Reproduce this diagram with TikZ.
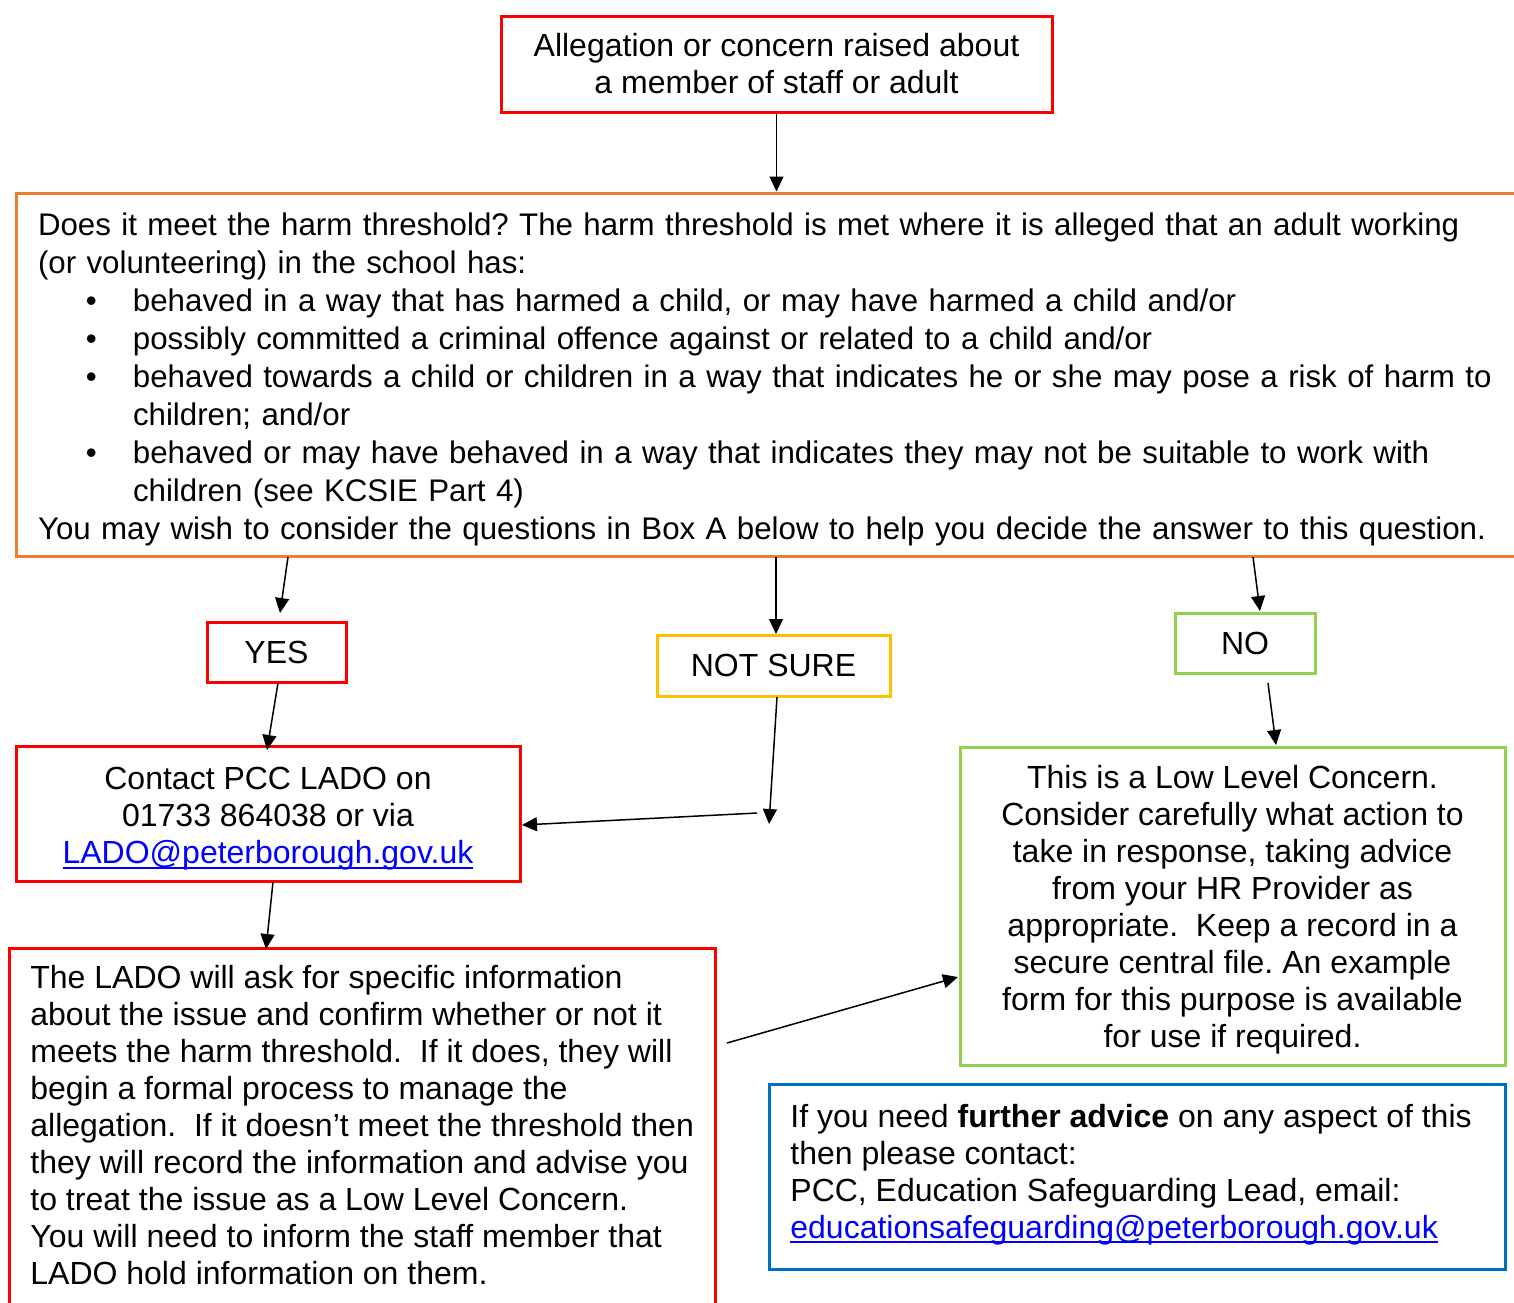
\documentclass[tikz,border=0pt]{standalone}
\usepackage{fontspec}
\setmainfont{Liberation Sans}
\usetikzlibrary{arrows.meta}
\definecolor{cred}{HTML}{FF0000}
\definecolor{corange}{HTML}{ED7D31}
\definecolor{cyellow}{HTML}{FFC000}
\definecolor{cgreen}{HTML}{92D050}
\definecolor{cblue}{HTML}{0070C0}
\definecolor{linkblue}{HTML}{0000FF}
\newcommand\weblink[1]{\leavevmode\setbox0=\hbox{\color{linkblue}#1}\rlap{\color{linkblue}\rule[-0.17em]{\wd0}{0.065em}}\box0}
\newcommand\bul{\hspace*{24pt}\makebox[23.5pt][l]{•}}
\newcommand\ind{\hspace*{47.5pt}}
\frenchspacing
\begin{document}
\begin{tikzpicture}[x=0.5pt,y=-0.5pt,
  every node/.style={font=\fontsize{16}{18.5}\selectfont},
  box/.style={draw, line width=1.5pt, inner sep=0pt},
  arr/.style={-{Triangle[length=7.5pt,width=7pt]}, line width=0.75pt}]
\useasboundingbox (0,0) rectangle (1514,1302);
\fill[white] (0,0) rectangle (1514,1302);

% boxes
\node[box, draw=cred, minimum width=275.5pt, minimum height=48pt, align=center] (top) at (776.5,64)
  {Allegation or concern raised about\\ a member of staff or adult};

\node[box, draw=corange, minimum width=772pt, minimum height=181.5pt, inner xsep=11pt,
  text width=750pt, align=left, font=\fontsize{15.63}{19}\selectfont] (q) at (788,374.5)
  {\rule{0pt}{16.4pt}Does it meet the harm threshold? The harm threshold is met where it is alleged that an adult working\\
   (or volunteering) in the school has:\\
   \bul behaved in a way that has harmed a child, or may have harmed a child and/or\\
   \bul possibly committed a criminal offence against or related to a child and/or\\
   \bul behaved towards a child or children in a way that indicates he or she may pose a risk of harm to\\
   \ind children; and/or\\
   \bul behaved or may have behaved in a way that indicates they may not be suitable to work with\\
   \ind children (see KCSIE Part 4)\\
   You may wish to consider the questions in Box A below to help you decide the answer to this question.};

\node[box, draw=cred, minimum width=69.5pt, minimum height=30pt] (yes) at (276.5,652) {YES};
\node[box, draw=cyellow, minimum width=116.5pt, minimum height=30.5pt] (notsure) at (773.5,665.5) {NOT SURE};
\node[box, draw=cgreen, minimum width=70pt, minimum height=30pt] (no) at (1245,643) {NO};

\node[box, draw=cred, minimum width=252pt, minimum height=67.5pt, align=center] (contact) at (268,813.5)
  {\rule{0pt}{16.8pt}Contact PCC LADO on\\ 01733 864038 or via\\ \weblink{LADO@peterborough.gov.uk}};

\node[box, draw=cred, minimum width=353pt, minimum height=196pt] (lado) at (362,1144) {};
\node[anchor=north west, inner sep=0pt, align=left] (ladotext) at (30,965)
  {The LADO will ask for specific information\\
   about the issue and confirm whether or not it\\
   meets the harm threshold.\ \ If it does, they will\\
   begin a formal process to manage the\\
   allegation.\ \ If it doesn’t meet the threshold then\\
   they will record the information and advise you\\
   to treat the issue as a Low Level Concern.\\
   You will need to inform the staff member that\\
   LADO hold information on them.};

\node[box, draw=cgreen, minimum width=272.5pt, minimum height=159pt, align=center] (low) at (1232.5,906)
  {\rule{0pt}{15.7pt}This is a Low Level Concern.\\
   Consider carefully what action to\\
   take in response, taking advice\\
   from your HR Provider as\\
   appropriate.\ \ Keep a record in a\\
   secure central file. An example\\
   form for this purpose is available\\
   for use if required.};

\node[box, draw=cblue, minimum width=368pt, minimum height=92.5pt] (advice) at (1137,1176.5) {};
\node[anchor=north west, inner sep=0pt, align=left, font=\fontsize{16}{18.4}\selectfont] (advicetext) at (790,1104)
  {If you need \textbf{further advice} on any aspect of this\\
   then please contact:\\
   PCC, Education Safeguarding Lead, email:\\
   \weblink{educationsafeguarding@peterborough.gov.uk}};

% connector end points
\coordinate (qyes) at (288,557);   \coordinate (yesin) at (280,613);
\coordinate (qns) at (776,557);    \coordinate (nsin) at (776,634);
\coordinate (qno) at (1253,557);   \coordinate (noin) at (1260,611);
\coordinate (yesout) at (278,683); \coordinate (contin) at (267,750);
\coordinate (nsout) at (777,697);  \coordinate (nsend) at (769,824);
\coordinate (bend) at (757,813);   \coordinate (contright) at (522,825);
\coordinate (contout) at (273,882);\coordinate (ladoin) at (266,949);
\coordinate (noout) at (1268,683); \coordinate (lowin) at (1276,745);
\coordinate (ladoout) at (727,1043); \coordinate (lowleft) at (958,977);

% connectors
\draw[arr] (top.south) -- (top.south |- q.north);
\draw[arr] (qyes) -- (yesin);
\draw[arr] (qns) -- (nsin);
\draw[arr] (qno) -- (noin);
\draw[arr] (yesout) -- (contin);
\draw[arr] (nsout) -- (nsend);
\draw[arr] (bend) -- (contright);
\draw[arr] (contout) -- (ladoin);
\draw[arr] (noout) -- (lowin);
\draw[arr] (ladoout) -- (lowleft);
\end{tikzpicture}
\end{document}
